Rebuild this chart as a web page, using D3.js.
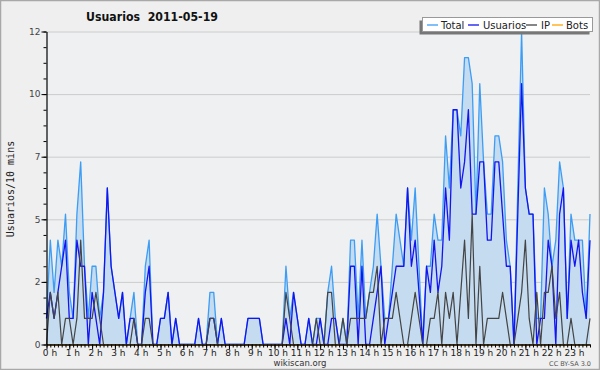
<!DOCTYPE html>
<html><head><meta charset="utf-8">
<script src="https://cdn.jsdelivr.net/npm/d3@7"></script>
<style>body{margin:0;background:#fff}svg{display:block}</style>
</head><body><svg id="c" width="600" height="370"></svg>
<script>
const hourLabels = ["0 h","1 h","2 h","3 h","4 h","5 h","6 h","7 h","8 h","9 h","10 h","11 h","12 h","13 h","14 h","15 h","16 h","17 h","18 h","19 h","20 h","21 h","22 h","23 h"];
const yTickValues = [0, 2.4, 4.8, 7.2, 9.6, 12];
const yTickLabels = ["0", "2", "5", "7", "10", "12"];
const seriesNames = ["Total", "Usuarios", "IP", "Bots"];

const total = [
1,4,2,4,3,5,2,1,5,7,3,1,
3,3,1,2,6,3,2,1,2,0,1,2,
0,0,3,4,0,0,1,1,2,0,1,0,
0,0,0,0,1,0,0,2,2,0,1,0,
0,0,0,0,0,1,1,1,1,0,0,0,
0,0,0,3,1,2,1,0,0,1,0,1,
1,0,2,3,1,0,1,0,4,4,1,4,
1,2,3,5,3,1,1,3,5,4,3,6,
4,6,3,0,3,3,5,4,4,8,6,9,
9,8,11,11,10,5,10,7,5,5,8,8,
7,4,3,0,6,12,6,5,5,1,1,6,
5,3,4,7,6,1,5,4,4,4,1,5
];
const usuarios = [
1,2,1,2,3,4,1,1,4,3,3,0,
2,1,0,2,6,3,2,1,2,0,1,1,
0,0,2,3,0,0,1,1,2,0,1,0,
0,0,0,0,1,0,0,1,1,0,1,0,
0,0,0,0,0,1,1,1,1,0,0,0,
0,0,0,1,0,2,1,0,0,1,0,0,
1,0,0,1,1,0,0,0,3,3,0,3,
0,0,1,2,3,0,1,2,3,3,3,6,
3,4,2,0,3,2,4,2,3,6,4,9,
9,6,7,9,5,5,7,7,4,4,7,7,
5,3,3,0,5,10,6,5,5,0,1,1,
4,3,0,5,6,1,4,3,4,2,1,4
];
const ip = [
0,2,1,2,0,1,1,0,1,4,1,1,
1,2,1,0,0,0,0,0,0,0,0,1,
0,0,1,1,0,0,0,0,0,0,0,0,
0,0,0,0,0,0,0,1,1,0,0,0,
0,0,0,0,0,0,0,0,0,0,0,0,
0,0,0,2,1,0,0,0,0,0,0,1,
0,0,2,2,0,0,1,0,1,1,1,1,
1,2,2,3,0,1,1,1,2,1,0,0,
1,2,1,0,0,1,1,2,0,2,1,2,
0,2,4,1,5,0,3,0,1,1,1,1,
2,1,0,0,1,2,4,1,0,2,0,2,
2,3,1,2,0,0,1,0,0,0,0,1
];
const bots = [
0,0,0,0,0,0,0,0,0,0,0,0,
0,0,0,0,0,0,0,0,0,0,0,0,
0,0,0,0,0,0,0,0,0,0,0,0,
0,0,0,0,0,0,0,0,0,0,0,0,
0,0,0,0,0,0,0,0,0,0,0,0,
0,0,0,0,0,0,0,0,0,0,0,0,
0,0,0,0,0,0,0,0,0,0,0,0,
0,0,0,0,0,0,0,0,0,0,0,0,
0,0,0,0,0,0,0,0,0,0,0,0,
0,0,0,0,0,0,0,0,0,0,0,0,
0,0,0,0,0,0,0,0,0,0,0,0,
0,0,0,0,0,0,0,0,0,0,0,0
];

const colors = {Total:"#3d9df5", Usuarios:"#1414f0", IP:"#444444", Bots:"#ffa500"};
const W = 600, H = 370;
const pLeft = 46.5, pRight = 590, pTop = 31.5, pBottom = 344.5;

const svg = d3.select("#c");
svg.append("rect").attr("x",0.5).attr("y",0.5).attr("width",W-1).attr("height",H-1)
  .attr("fill","#efefef").attr("stroke","#a8a8a8").attr("stroke-width",1.5);

const x = d3.scaleLinear().domain([0, total.length-1]).range([pLeft, pRight]);
const y = d3.scaleLinear().domain([0, 12]).range([pBottom, pTop]);

svg.append("rect").attr("x",pLeft).attr("y",pTop).attr("width",pRight-pLeft).attr("height",pBottom-pTop).attr("fill","#eef0f2");

// grid
svg.append("g").attr("transform",`translate(${pLeft},0)`)
  .call(d3.axisLeft(y).tickValues(yTickValues.slice(1)).tickSize(-(pRight-pLeft)).tickFormat(""))
  .call(g=>{g.select(".domain").remove(); g.selectAll("line").attr("stroke","#cccccc").attr("stroke-width",1);});

const idx = d3.range(total.length);
const area = d3.area().x(i=>x(i)).y0(y(0)).y1(i=>y(total[i]));
svg.append("path").datum(idx).attr("d",area).attr("fill","#c4dbf0");

function line(arr, col, w){
  svg.append("path").datum(idx).attr("d", d3.line().x(i=>x(i)).y(i=>y(arr[i])))
    .attr("fill","none").attr("stroke",col).attr("stroke-width",w).attr("stroke-linejoin","round");
}
line(total, colors.Total, 1.3);
line(usuarios, colors.Usuarios, 1.3);
line(ip, colors.IP, 1.2);
line(bots, colors.Bots, 1.2);

// y axis
const fontTick = "'DejaVu Sans', sans-serif";
svg.append("g").attr("transform",`translate(${pLeft},0)`)
  .call(d3.axisLeft(y).tickValues(d3.range(0, 12.001, 0.6)).tickSize(3).tickFormat(""))
  .call(g=>{g.select(".domain").remove(); g.selectAll("line").attr("stroke","#000");});
svg.append("g").attr("transform",`translate(${pLeft},0)`)
  .call(d3.axisLeft(y).tickValues(yTickValues).tickSize(5).tickSizeOuter(0).tickPadding(1).tickFormat((d,i)=>yTickLabels[i]))
  .call(g=>{g.select(".domain").attr("stroke","#000").attr("stroke-width",1.2);
    g.selectAll("line").attr("stroke","#000");
    g.selectAll("text").attr("fill","#444").style("font-family",fontTick).style("font-size","9px");});

// x axis
svg.append("g").attr("transform",`translate(0,${pBottom})`)
  .call(d3.axisBottom(x).tickValues(idx).tickSize(3).tickSizeOuter(0).tickFormat(""))
  .call(g=>{g.select(".domain").attr("stroke","#000").attr("stroke-width",1.5); g.selectAll("line").attr("stroke","#000");});
svg.append("g").attr("transform",`translate(0,${pBottom})`)
  .call(d3.axisBottom(x).tickValues(hourLabels.map((d,h)=>h*6)).tickSize(5).tickSizeOuter(0).tickFormat((d,i)=>hourLabels[i]))
  .call(g=>{g.select(".domain").remove(); g.selectAll("line").attr("stroke","#000");
    g.selectAll("text").attr("fill","#222").attr("y",5).attr("dy","0.7em").attr("dx",3)
      .style("font-family",fontTick).style("font-size","9px");});

// title
svg.append("text").attr("x",86).attr("y",21).text("Usuarios  2011-05-19")
  .attr("textLength",132).attr("lengthAdjust","spacingAndGlyphs")
  .attr("fill","#111").style("font-family",fontTick).style("font-weight","bold").style("font-size","13px")
  .style("white-space","pre");

// y label
svg.append("text").attr("transform","translate(13.5,189) rotate(-90)").attr("text-anchor","middle")
  .text("Usuarios/10 mins").attr("fill","#222").style("font-family","'DejaVu Sans Mono', monospace").style("font-size","10px");

// footer
svg.append("text").attr("x",300).attr("y",366).attr("text-anchor","middle").text("wikiscan.org")
  .attr("fill","#333").style("font-family",fontTick).style("font-size","8.5px");
svg.append("text").attr("x",591).attr("y",366).attr("text-anchor","end").text("CC BY-SA 3.0")
  .attr("fill","#555").style("font-family",fontTick).style("font-size","6.5px");

// legend
const lg = svg.append("g");
lg.append("rect").attr("x",419.5).attr("y",20.5).attr("width",170).attr("height",14).attr("fill","#777");
lg.append("rect").attr("x",422.5).attr("y",17.5).attr("width",170).attr("height",14).attr("fill","#fff").attr("stroke","#999");
const items = [
  {name:seriesNames[0], lx:427, tx:441},
  {name:seriesNames[1], lx:468, tx:483},
  {name:seriesNames[2], lx:526, tx:541},
  {name:seriesNames[3], lx:552, tx:566}
];
items.forEach(it=>{
  lg.append("line").attr("x1",it.lx).attr("x2",it.lx+11).attr("y1",25).attr("y2",25).attr("stroke",colors[it.name]).attr("stroke-width",1.3);
  lg.append("text").attr("x",it.tx).attr("y",28.5).text(it.name).attr("fill","#222")
    .style("font-family",fontTick).style("font-size","10px");
});
</script></body></html>
